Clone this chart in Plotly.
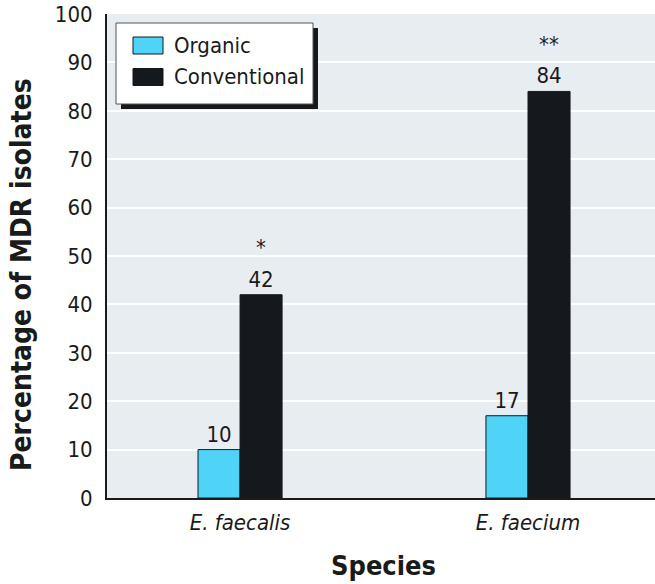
import plotly.graph_objects as go

species = ["E. faecalis", "E. faecium"]
species_labels = ["<i>E. faecalis</i>", "<i>E. faecium</i>"]
organic = [10, 17]
conventional = [42, 84]
significance = ["*", "**"]
series_names = ["Organic", "Conventional"]
series_colors = ["#4fd3f7", "#15191d"]

FONT = "DejaVu Sans Condensed, Liberation Sans Narrow, Arial Narrow, sans-serif"
TXT = "#1a1a1a"
SZ = 22

# plot area in pixels
L, T, R, B = 107, 14, 655, 498
W, H = R - L, B - T


def px(x):
    return (x - L) / W


def py(y):
    return (B - y) / H


fig = go.Figure()
for name, vals, col in zip(series_names, [organic, conventional], series_colors):
    fig.add_trace(go.Bar(
        name=name, x=[0, 1], y=vals, text=[str(v) for v in vals],
        textposition="outside", textfont=dict(size=SZ, color=TXT, family=FONT),
        marker=dict(color=col, line=dict(color="#15191d", width=1)),
        cliponaxis=False, hoverinfo="skip",
    ))

for i, (v, s) in enumerate(zip(conventional, significance)):
    fig.add_annotation(x=i + 0.073, y=v + 9.8, text=s, showarrow=False,
                       font=dict(size=SZ, color=TXT, family=FONT), xref="x", yref="y")

# manual legend (box with drop shadow, swatches, labels)
fig.add_shape(type="rect", xref="paper", yref="paper",
              x0=px(121), x1=px(318), y0=py(109), y1=py(28),
              fillcolor="#15191d", line=dict(width=0), layer="above")
fig.add_shape(type="rect", xref="paper", yref="paper",
              x0=px(116), x1=px(313), y0=py(104), y1=py(23),
              fillcolor="white", line=dict(color="#555", width=1), layer="above")
for k, (name, col) in enumerate(zip(series_names, series_colors)):
    yc = 45.5 + k * 31.5
    fig.add_shape(type="rect", xref="paper", yref="paper",
                  x0=px(133), x1=px(163), y0=py(yc + 8.5), y1=py(yc - 8.5),
                  fillcolor=col, line=dict(color="#15191d", width=1), layer="above")
    fig.add_annotation(xref="paper", yref="paper", x=px(172), y=py(yc),
                       xanchor="left", yanchor="middle", text=name, showarrow=False,
                       font=dict(size=SZ, color=TXT, family=FONT))

# axis titles
fig.add_annotation(xref="paper", yref="paper", x=px(22), y=py(275), textangle=-90,
                   text="<b>Percentage of MDR isolates</b>", showarrow=False,
                   xanchor="center", yanchor="middle",
                   font=dict(size=28, color=TXT, family=FONT))
fig.add_annotation(xref="paper", yref="paper", x=px(383), y=py(565),
                   text="<b>Species</b>", showarrow=False,
                   xanchor="center", yanchor="middle",
                   font=dict(size=27, color=TXT, family=FONT))

fig.update_layout(
    width=655, height=584,
    margin=dict(l=L, r=655 - R, t=T, b=584 - B),
    paper_bgcolor="white", plot_bgcolor="#e8edf2",
    barmode="group", bargap=0.708, bargroupgap=0,
    font=dict(family=FONT, color=TXT, size=SZ),
    showlegend=False,
    xaxis=dict(tickvals=[0, 1], ticktext=species_labels, range=[-0.462, 1.441],
               showline=True, linecolor="#1a1a1a", linewidth=2, ticks="",
               showgrid=False, zeroline=False, automargin=False,
               tickfont=dict(size=SZ, family=FONT, color=TXT), ticklabelstandoff=4),
    yaxis=dict(range=[0, 100], dtick=10, showline=True, linecolor="#1a1a1a", linewidth=2,
               showgrid=True, gridcolor="white", gridwidth=2, zeroline=False, ticks="",
               automargin=False,
               tickfont=dict(size=SZ, family=FONT, color=TXT), ticklabelstandoff=8),
)

fig.write_html("out.html", config={"displayModeBar": False},
               post_script="document.body.style.margin='0px';document.body.style.padding='0px';")
